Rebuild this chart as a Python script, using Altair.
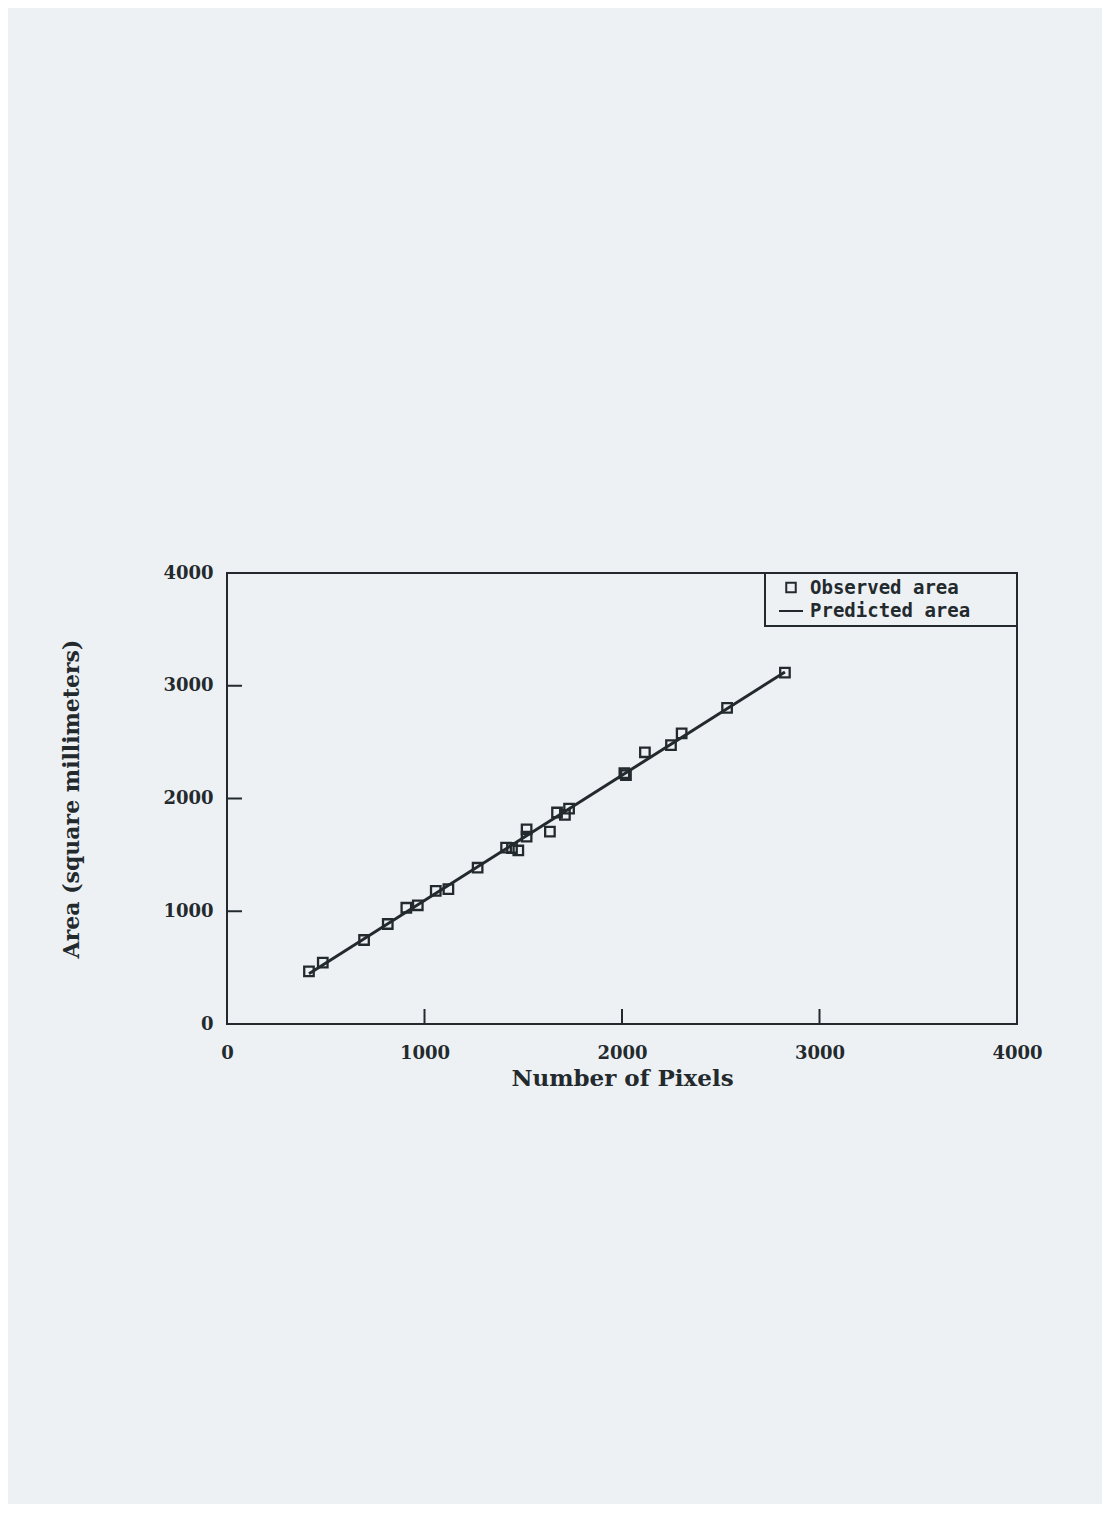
import altair as alt
import pandas as pd

# Observed points
pixels = [415, 485, 694, 814, 908, 966, 1057, 1121, 1269, 1413, 1443, 1475, 1517,
          1517, 1635, 1671, 1711, 1732, 2012, 2020, 2116, 2248, 2302, 2532, 2825]
area = [466, 544, 745, 887, 1031, 1053, 1180, 1197, 1386, 1564, 1561, 1539, 1727,
        1661, 1707, 1876, 1854, 1911, 2224, 2208, 2410, 2474, 2578, 2803, 3116]
legend_labels = ["Observed area", "Predicted area"]
axis_values = [0, 1000, 2000, 3000, 4000]
inner_ticks = [1000, 2000, 3000]

INK = "#232a2e"
BG = "#eef1f4"
SERIF = "DejaVu Serif"
MONO = "DejaVu Sans Mono"

df = pd.DataFrame({"px": pixels, "area": area, "series": [legend_labels[0]] * len(pixels)})
ticks_df = pd.DataFrame({"tick": inner_ticks})

xs = alt.Scale(domain=[0, 4000], nice=False)
ys = alt.Scale(domain=[0, 4000], nice=False)
XT = "Number of Pixels"
YT = "Area (square millimeters)"

xaxis = alt.Axis(values=axis_values, title=XT, labelPadding=20, titlePadding=5,
                 titleFontSize=23, labelFlush=False, labelOverlap=False, format="d")
yaxis = alt.Axis(values=axis_values, title=YT, labelPadding=14, titlePadding=79,
                 titleFontSize=22, labelFlush=False, labelOverlap=False, format="d")

# blank (braille-blank) legend title on the right keeps the empty space of the reference box
LTITLE = "\u2800\u2800\u2800"

points = alt.Chart(df).mark_point(filled=False, strokeWidth=2.3, color=INK, opacity=1).encode(
    x=alt.X("px:Q", scale=xs, axis=xaxis),
    y=alt.Y("area:Q", scale=ys, axis=yaxis),
    shape=alt.Shape("series:N", scale=alt.Scale(domain=legend_labels, range=["square", "stroke"]),
                    legend=alt.Legend(title=LTITLE)),
    size=alt.Size("series:N", scale=alt.Scale(domain=legend_labels, range=[90, 576]),
                  legend=alt.Legend(title=LTITLE)),
)

line = alt.Chart(df).transform_regression("px", "area").mark_line(
    color=INK, strokeWidth=3
).encode(
    x=alt.X("px:Q", scale=xs, title=XT),
    y=alt.Y("area:Q", scale=ys, title=YT),
)

xticks = alt.Chart(ticks_df).mark_rule(color=INK, strokeWidth=2).encode(
    x=alt.X("tick:Q", scale=xs, title=XT),
    y=alt.value(451),
    y2=alt.value(436),
)
yticks = alt.Chart(ticks_df).mark_rule(color=INK, strokeWidth=2).encode(
    y=alt.Y("tick:Q", scale=ys, title=YT),
    x=alt.value(0),
    x2=alt.value(15),
)

chart = alt.layer(line, points, xticks, yticks).properties(
    width=790,
    height=451,
    padding={"left": 219, "top": 565, "right": 85, "bottom": 480},
    autosize=alt.AutoSizeParams(type="none"),
    background=BG,
).configure_view(
    stroke=INK, strokeWidth=2
).configure_axis(
    domain=False, ticks=False, grid=False,
    labelFont=SERIF, labelFontWeight="bold", labelFontSize=18, labelColor=INK,
    titleFont=SERIF, titleFontWeight="bold", titleColor=INK,
).configure_legend(
    orient="top-right", offset=0, padding=5,
    strokeColor=INK, strokeWidth=2, fillColor=BG,
    titleOrient="right", titlePadding=0, titleFont=MONO, titleFontSize=19, titleOpacity=0,
    labelFont=MONO, labelFontWeight="bold", labelFontSize=19, labelColor=INK,
    labelOffset=6, symbolOffset=8, labelLimit=400, rowPadding=-3,
    symbolStrokeColor=INK, symbolStrokeWidth=2, symbolFillColor="transparent",
)

chart.save("out.html", embed_options={"renderer": "svg", "actions": False})
